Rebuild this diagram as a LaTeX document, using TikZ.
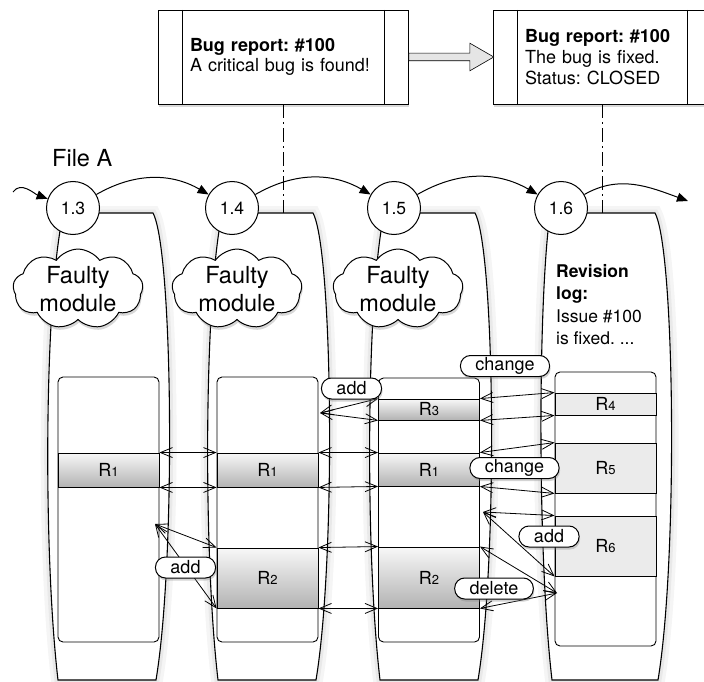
\documentclass[tikz,border=0pt]{standalone}
\usepackage{fontspec}
\setmainfont{TeX Gyre Heros}
\frenchspacing
\usetikzlibrary{arrows.meta, positioning, shapes.symbols, shapes.arrows, shadows}
\newcommand{\revsub}[1]{R{\fontsize{13}{13}\selectfont #1}}
\tikzset{
    bugbox/.style={draw, fill=white, line width=0.9pt, minimum height=94pt, inner xsep=32pt, align=left,
        font=\fontsize{18}{20.8}\selectfont,
        drop shadow={opacity=0.3, shadow xshift=1pt, shadow yshift=-3.5pt},
        path picture={
            \draw[line width=0.9pt] ([xshift=24pt]path picture bounding box.north west) -- ([xshift=24pt]path picture bounding box.south west);
            \draw[line width=0.9pt] ([xshift=-24pt]path picture bounding box.north east) -- ([xshift=-24pt]path picture bounding box.south east);
        }},
    fatarrow/.style={single arrow, draw, fill=black!10, line width=0.6pt, minimum height=85pt, inner sep=3.5pt,
        single arrow head extend=10pt, single arrow tip angle=60, single arrow head indent=0pt},
    linkline/.style={line width=0.8pt, dash pattern=on 14pt off 4pt on 2pt off 4pt},
    pageshape/.style={fill=white, line width=1.1pt,
        preaction={draw=black, opacity=0.04, line width=14pt},
        preaction={draw=black, opacity=0.05, line width=7pt}},
    revnode/.style={circle, draw, fill=white, line width=1pt, minimum size=53pt, inner sep=0pt, font=\fontsize{17.5}{17.5}\selectfont},
    flow/.style={-{Triangle[length=11pt, width=9pt]}, line width=1pt},
    faulty/.style={cloud, cloud puffs=9, cloud puff arc=110, cloud ignores aspect, minimum width=130pt, minimum height=70pt,
        inner sep=0pt, draw, fill=white, line width=1pt, align=center, font=\fontsize{23.5}{28}\selectfont,
        drop shadow={opacity=0.3, shadow xshift=1pt, shadow yshift=-3pt}},
    logbox/.style={draw, fill=white, rounded corners=5pt, minimum width=101pt, line width=0.9pt},
    band/.style={draw, line width=0.9pt, minimum width=101pt, inner sep=0pt, font=\fontsize{18}{18}\selectfont},
    gband/.style={band, top color=black!3, bottom color=black!30},
    fband/.style={band, fill=black!8},
    link/.style={{Straight Barb[length=12pt, width=10pt]}-{Straight Barb[length=12pt, width=10pt]}, line width=0.8pt},
    tag/.style={draw, fill=white, rounded corners=10pt, minimum height=21pt, inner xsep=15pt, inner ysep=0pt, line width=1pt,
        font=\fontsize{18}{18}\selectfont,
        drop shadow={opacity=0.35, shadow xshift=1pt, shadow yshift=-2.5pt}}
}
\begin{document}
\begin{tikzpicture}[x=1pt, y=1pt]
    \useasboundingbox (0,0) rectangle (704,-682);
    \clip (0,0) rectangle (704,-682);

    % bug reports
    \node[bugbox, text width=186pt] (bug1) at (283,-57) {\textbf{Bug report: \#100}\\A critical bug is found!};
    \node[bugbox, text width=154pt] (bug2) at (602,-57) {\textbf{Bug report: \#100}\\The bug is fixed.\\Status: CLOSED};
    \node[fatarrow, right=0pt of bug1] (push) {};

    % revisions of the file
    \foreach \cx/\bl/\rt [count=\i] in {73/58/153, 232/218/313, 394/380/475, 561/552/655} {
        \filldraw[pageshape] (\cx,-213) -- (\rt,-213) .. controls (\rt+20,-250) and (\rt+23,-560) .. (\rt+3,-680)
            -- (\bl,-680) .. controls (\bl-14,-560) and (\bl-14,-330) .. (\cx-13,-231) -- cycle;
        \coordinate (top\i) at (\rt,-213);
    }
    \draw[linkline] (bug1.south) -- (bug1.south |- top2);
    \draw[linkline] (bug2.south) -- (bug2.south |- top4);

    \node[revnode] (c1) at (73,-208) {1.3};
    \node[revnode] (c2) at (232,-208) {1.4};
    \node[revnode] (c3) at (394,-208) {1.5};
    \node[revnode] (c4) at (561,-208) {1.6};
    \coordinate (start) at (13,-192);
    \coordinate (end) at (688,-201);
    \draw[flow] (start) to[out=55, in=160] (c1);
    \draw[flow] (c1) to[out=30, in=150] (c2);
    \draw[flow] (c2) to[out=30, in=150] (c3);
    \draw[flow] (c3) to[out=30, in=150] (c4);
    \draw[flow] (c4) to[out=30, in=160] (end);
    \node[anchor=base west, inner sep=0pt, font=\fontsize{23.5}{28}\selectfont] (filea) at (52,-167) {File A};

    % file contents
    \node[faulty] (cloud1) at (78,-289) {Faulty\\module};
    \node[faulty] (cloud2) at (237,-289) {Faulty\\module};
    \node[faulty] (cloud3) at (398,-289) {Faulty\\module};
    \node[anchor=north west, align=left, inner sep=0pt, font=\fontsize{17.5}{22.5}\selectfont] (revlog) at (556,-264)
        {\textbf{Revision}\\\textbf{log:}\\Issue \#100\\is fixed. ...};

    \node[logbox, minimum height=265pt] (b1) at (108.5,-509.5) {};
    \node[logbox, minimum height=265pt] (b2) at (267.5,-509.5) {};
    \node[logbox, minimum height=264pt] (b3) at (429,-510) {};
    \node[logbox, minimum height=274pt] (b4) at (605.5,-509) {};

    \node[gband, minimum height=34pt] (r11) at (108.5,-470) {\revsub{1}};
    \node[gband, minimum height=34pt] (r21) at (267.5,-470) {\revsub{1}};
    \node[gband, minimum height=60pt] (r22) at (267.5,-578) {\revsub{2}};
    \node[gband, minimum height=21pt] (r33) at (429,-409.5) {\revsub{3}};
    \node[gband, minimum height=33pt] (r31) at (429,-469.5) {\revsub{1}};
    \node[gband, minimum height=61pt] (r32) at (429,-577.5) {\revsub{2}};
    \node[fband, minimum height=22pt] (r44) at (605.5,-404) {\revsub{4}};
    \node[fband, minimum height=50pt] (r45) at (605.5,-468) {\revsub{5}};
    \node[fband, minimum height=60pt] (r46) at (605.5,-546) {\revsub{6}};

    % region mapping
    \coordinate (p1) at (155,-524);
    \coordinate (p2) at (320,-413);
    \coordinate (p3) at (483,-512);
    \coordinate (p4) at (557,-593);
    \draw[link] (r11.north east) -- (r21.north west);
    \draw[link] (r11.south east) -- (r21.south west);
    \draw[link] (p1) -- (r22.north west);
    \draw[link] (p1) -- (r22.south west);
    \draw[link] (p2) -- (r33.north west);
    \draw[link] (p2) -- (r33.south west);
    \draw[link] (r21.north east) -- (r31.north west);
    \draw[link] (r21.south east) -- (r31.south west);
    \draw[link] (r22.north east) -- (r32.north west);
    \draw[link] (r22.south east) -- (r32.south west);
    \draw[link] (r33.north east) -- (r44.north west);
    \draw[link] (r33.south east) -- (r44.south west);
    \draw[link] (r31.north east) -- (r45.north west);
    \draw[link] (r31.south east) -- (r45.south west);
    \draw[link] (p3) -- (r46.north west);
    \draw[link] (p3) -- (r46.south west);
    \draw[link] (r32.north east) -- (p4);
    \draw[link] (r32.south east) -- (p4);

    \node[tag] (add1) at (185.5,-567.5) {add};
    \node[tag] (add2) at (351.5,-388.5) {add};
    \node[tag] (chg1) at (505,-366) {change};
    \node[tag] (chg2) at (514.5,-468) {change};
    \node[tag] (add3) at (549,-536.5) {add};
    \node[tag] (del) at (494,-588.5) {delete};
\end{tikzpicture}
\end{document}
